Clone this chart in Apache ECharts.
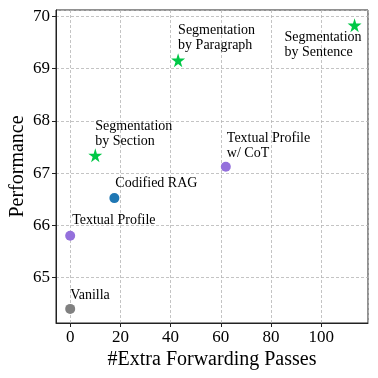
<!DOCTYPE html>
<html>
<head>
<meta charset="utf-8">
<script src="https://cdn.jsdelivr.net/npm/echarts@6/dist/echarts.min.js"></script>
<style>
  html, body { margin: 0; padding: 0; background: #fff; }
  #chart { width: 378px; height: 378px; }
</style>
</head>
<body>
<div id="chart"></div>
<script>
// data
const methods = [
  'Vanilla',
  'Textual Profile',
  'Codified RAG',
  'Textual Profile\nw/ CoT',
  'Segmentation\nby Section',
  'Segmentation\nby Paragraph',
  'Segmentation\nby Sentence',
];
const passes = [0, 0, 17.6, 62, 10, 43, 113.3];
const performance = [64.4, 65.8, 66.52, 67.12, 67.34, 69.16, 69.83];
const groups = ['base', 'profile', 'rag', 'profile', 'seg', 'seg', 'seg'];

// styling
const groupColor = { base: '#808080', profile: '#9470dc', rag: '#1f77b4', seg: '#00c846' };
const starPath = 'path://M50,0 L61,35 L98,35 L68,57 L79,91 L50,70 L21,91 L32,57 L2,35 L39,35 Z';
const labelOffset = [[0, -14], [2, -15], [1, -15], [1, -21], [0, -21], [0, -22], [-70, 20]];
const serif = '"Liberation Serif", "DejaVu Serif", serif';

const myChart = echarts.init(document.getElementById('chart'));

const series = methods.map((name, i) => ({
  name: name,
  type: 'scatter',
  symbol: groups[i] === 'seg' ? starPath : 'circle',
  symbolSize: groups[i] === 'seg' ? 14 : 10,
  itemStyle: { color: groupColor[groups[i]], opacity: 1 },
  label: {
    show: true,
    formatter: name,
    position: 'inside',
    align: 'left',
    verticalAlign: 'middle',
    offset: labelOffset[i],
    fontFamily: serif,
    fontSize: 14,
    lineHeight: 15,
    color: '#000',
  },
  emphasis: { disabled: true },
  data: [[passes[i], performance[i]]],
}));

myChart.setOption({
  animation: false,
  textStyle: { fontFamily: serif },
  grid: {
    left: 56,
    right: 10,
    top: 10,
    bottom: 55,
    containLabel: false,
    outerBoundsMode: 'none',
    show: true,
    borderColor: '#222',
    borderWidth: 1,
    backgroundColor: 'transparent',
  },
  xAxis: {
    type: 'value',
    min: -5.65,
    max: 118.65,
    splitNumber: 6,
    name: '#Extra Forwarding Passes',
    nameLocation: 'middle',
    nameGap: 27,
    nameMoveOverlap: false,
    nameTextStyle: { fontFamily: serif, fontSize: 20, color: '#000' },
    axisLine: { show: true, onZero: false, lineStyle: { color: '#222' } },
    axisTick: { show: true, length: 4, lineStyle: { color: '#222' } },
    axisLabel: {
      fontFamily: serif,
      fontSize: 17,
      color: '#000',
      margin: 6,
      showMinLabel: false,
      showMaxLabel: false,
    },
    splitLine: { show: true, lineStyle: { color: '#b5b5b5', type: [3, 2], width: 0.8 } },
  },
  yAxis: {
    type: 'value',
    min: 64.13,
    max: 70.12,
    splitNumber: 6,
    name: 'Performance',
    nameLocation: 'middle',
    nameGap: 28,
    nameMoveOverlap: false,
    nameTextStyle: { fontFamily: serif, fontSize: 20, color: '#000' },
    axisLine: { show: true, onZero: false, lineStyle: { color: '#222' } },
    axisTick: { show: true, length: 4, lineStyle: { color: '#222' } },
    axisLabel: {
      fontFamily: serif,
      fontSize: 17,
      color: '#000',
      margin: 6,
      showMinLabel: false,
      showMaxLabel: false,
    },
    splitLine: { show: true, lineStyle: { color: '#b5b5b5', type: [3, 2], width: 0.8 } },
  },
  series: series,
});
</script>
</body>
</html>
